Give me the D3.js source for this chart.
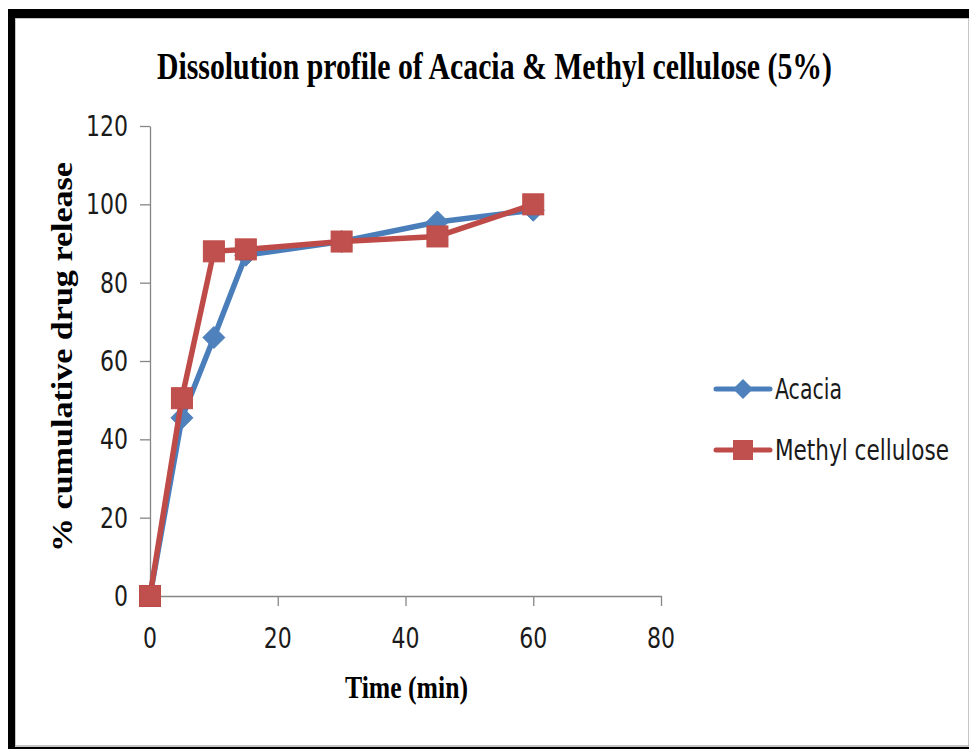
<!DOCTYPE html>
<html>
<head>
<meta charset="utf-8">
<script src="https://cdn.jsdelivr.net/npm/d3@7"></script>
<style>
  body { margin: 0; background: #fff; }
  svg { display: block; }
  .tick-label { font-family: "Liberation Sans Narrow", "DejaVu Sans Condensed", "Open Sans", sans-serif; font-size: 29px; fill: #1a1a1a; }
  .serif-b { font-family: "Liberation Serif", "DejaVu Serif", serif; font-weight: bold; fill: #000; }
</style>
</head>
<body>
<div id="chart"></div>
<script>
// data
const times = [0, 5, 10, 15, 30, 45, 60]
const acacia = [0, 45.5, 66, 87, 90.5, 95.5, 98.5]
const methylCellulose = [0, 50.5, 88, 88.5, 90.5, 91.8, 100]
const seriesNames = ["Acacia", "Methyl cellulose"]
const xTicks = [0, 20, 40, 60, 80]
const yTicks = [0, 20, 40, 60, 80, 100, 120]

const W = 969, H = 749
const svg = d3.select('#chart').append('svg').attr('width', W).attr('height', H)

// frame (black band on top, left and bottom)
svg.append('rect').attr('x', 15).attr('y', 18).attr('width', W - 15).attr('height', 728)
  .attr('fill', 'none').attr('stroke', '#a0a0a0').attr('stroke-width', 1.2)
svg.append('rect').attr('x', 8).attr('y', 9).attr('width', W - 8).attr('height', 9).attr('fill', '#000')
svg.append('rect').attr('x', 8).attr('y', 9).attr('width', 7).attr('height', H - 9).attr('fill', '#000')
svg.append('rect').attr('x', 8).attr('y', 747).attr('width', W - 8).attr('height', 3).attr('fill', '#000')

const x = d3.scaleLinear().domain([0, 80]).range([150, 661])
const y = d3.scaleLinear().domain([0, 120]).range([596, 126])

// axes
const axisColor = '#868686'
const gx = svg.append('g').attr('transform', `translate(0,${y(0)})`)
  .call(d3.axisBottom(x).tickValues(xTicks).tickSize(10).tickSizeOuter(0).tickFormat(''))
const gy = svg.append('g').attr('transform', `translate(${x(0)},0)`)
  .call(d3.axisLeft(y).tickValues(yTicks).tickSize(10).tickSizeOuter(0).tickFormat(''))
svg.selectAll('.domain, .tick line').attr('stroke', axisColor).attr('stroke-width', 1.3)
gx.selectAll('.tick').filter(d => d === 0).select('line').remove()

// narrow, tall digits like the original
const digitW = 14
svg.append('g').selectAll('text').data(xTicks).enter().append('text')
  .attr('class', 'tick-label').attr('x', d => x(d)).attr('y', 648)
  .attr('text-anchor', 'middle')
  .attr('textLength', d => String(d).length * digitW).attr('lengthAdjust', 'spacingAndGlyphs')
  .text(d => d)
svg.append('g').selectAll('text').data(yTicks).enter().append('text')
  .attr('class', 'tick-label').attr('x', 128).attr('y', d => y(d) + 10)
  .attr('text-anchor', 'end')
  .attr('textLength', d => String(d).length * digitW).attr('lengthAdjust', 'spacingAndGlyphs')
  .text(d => d)

// titles
svg.append('text').attr('class', 'serif-b').attr('x', 157).attr('y', 79)
  .attr('font-size', 37).attr('textLength', 675).attr('lengthAdjust', 'spacingAndGlyphs')
  .text('Dissolution profile of Acacia & Methyl cellulose (5%)')
svg.append('text').attr('class', 'serif-b').attr('x', 345).attr('y', 698)
  .attr('font-size', 32).attr('textLength', 123).attr('lengthAdjust', 'spacingAndGlyphs')
  .text('Time (min)')
svg.append('text').attr('class', 'serif-b')
  .attr('transform', 'translate(72,552) rotate(-90)')
  .attr('font-size', 29).attr('textLength', 390).attr('lengthAdjust', 'spacingAndGlyphs')
  .text('% cumulative drug release')

// series
const blue = '#4A7EBB', blueFill = '#4F81BD'
const red = '#BE4B48', redFill = '#C0504D'

const line = d3.line().x(d => x(d[0])).y(d => y(d[1]))

function drawSeries(vals, stroke, fill, marker) {
  const pts = times.map((t, i) => [t, vals[i]])
  svg.append('path').datum(pts).attr('d', line)
    .attr('fill', 'none').attr('stroke', stroke).attr('stroke-width', 5.5)
    .attr('stroke-linejoin', 'round')
  const g = svg.append('g')
  if (marker === 'diamond') {
    g.selectAll('path').data(pts).enter().append('path')
      .attr('d', d => {
        const cx = x(d[0]), cy = y(d[1]), r = 11
        return `M${cx},${cy - r}L${cx + r},${cy}L${cx},${cy + r}L${cx - r},${cy}Z`
      })
      .attr('fill', fill).attr('stroke', stroke).attr('stroke-width', 1)
  } else {
    g.selectAll('rect').data(pts).enter().append('rect')
      .attr('x', d => x(d[0]) - 10.5).attr('y', d => y(d[1]) - 10.5)
      .attr('width', 21).attr('height', 21)
      .attr('fill', fill).attr('stroke', stroke).attr('stroke-width', 1)
  }
}

drawSeries(acacia, blue, blueFill, 'diamond')
drawSeries(methylCellulose, red, redFill, 'square')

// legend
const legend = [
  { name: seriesNames[0], stroke: blue, fill: blueFill, marker: 'diamond', y: 389, w: 67 },
  { name: seriesNames[1], stroke: red, fill: redFill, marker: 'square', y: 450, w: 174 }
]
const lg = svg.append('g')
legend.forEach(d => {
  lg.append('line').attr('x1', 716).attr('x2', 770).attr('y1', d.y).attr('y2', d.y)
    .attr('stroke', d.stroke).attr('stroke-width', 5).attr('stroke-linecap', 'round')
  if (d.marker === 'diamond') {
    const cx = 743, r = 10
    lg.append('path').attr('d', `M${cx},${d.y - r}L${cx + r},${d.y}L${cx},${d.y + r}L${cx - r},${d.y}Z`)
      .attr('fill', d.fill)
  } else {
    lg.append('rect').attr('x', 733).attr('y', d.y - 10).attr('width', 20).attr('height', 20)
      .attr('fill', d.fill)
  }
  lg.append('text').attr('class', 'tick-label').attr('x', 775).attr('y', d.y + 10)
    .attr('textLength', d.w).attr('lengthAdjust', 'spacingAndGlyphs')
    .text(d.name)
})
</script>
</body>
</html>
